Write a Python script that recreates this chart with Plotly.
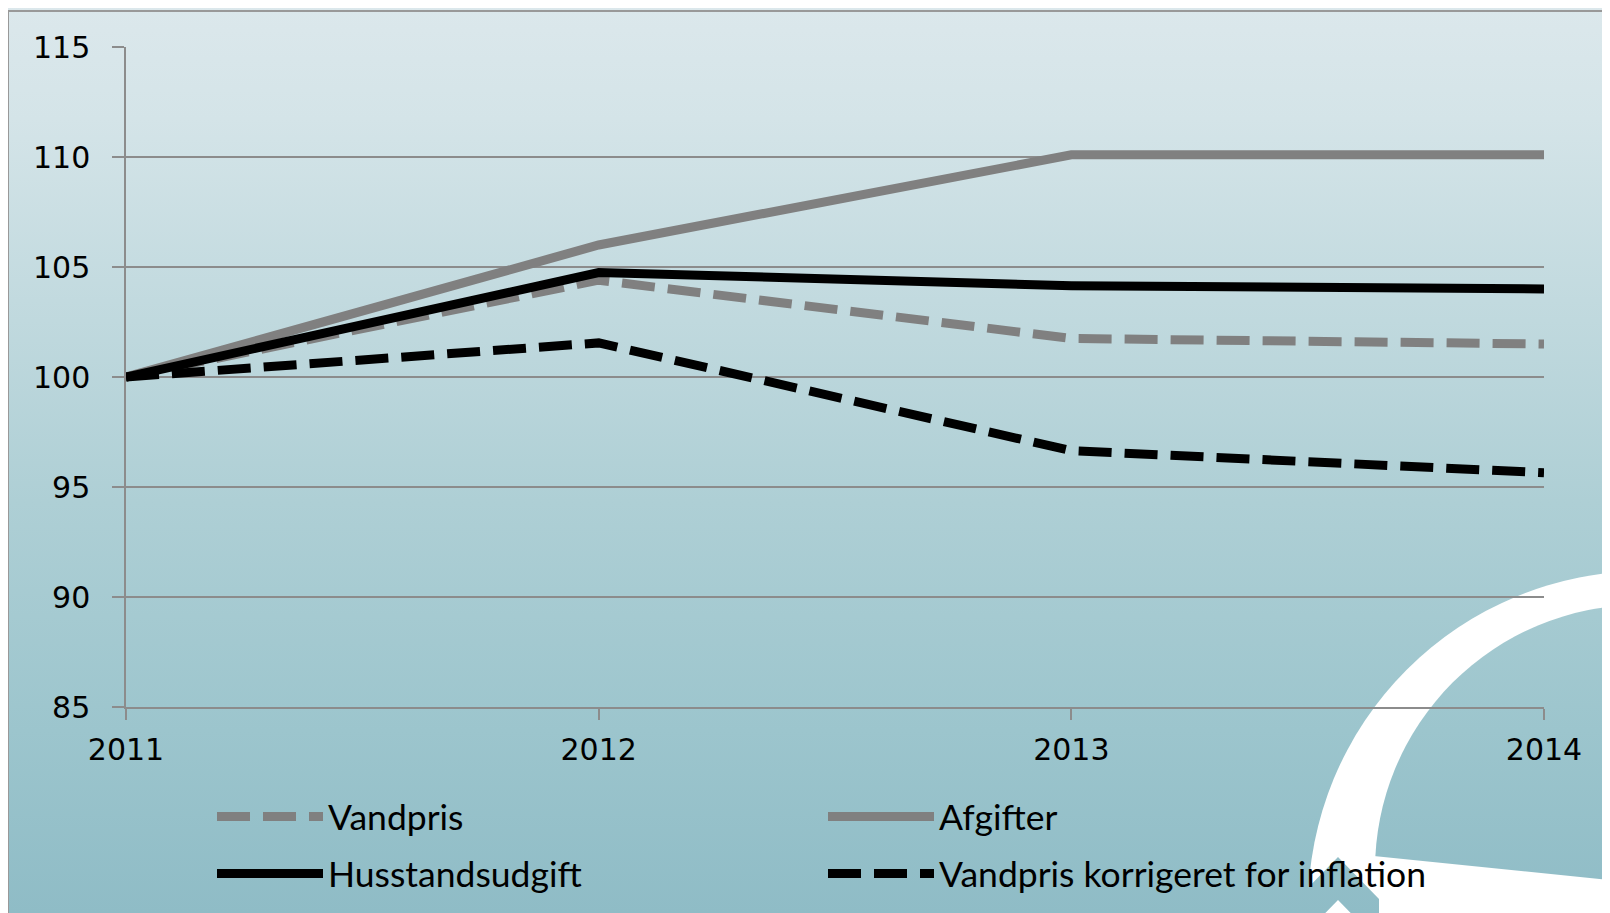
import base64
import plotly.graph_objects as go

# ---- data ----
years = [2011, 2012, 2013, 2014]
year_labels = ["2011", "2012", "2013", "2014"]
vandpris = [100, 104.4, 101.75, 101.5]
afgifter = [100, 106.0, 110.1, 110.1]
husstandsudgift = [100, 104.75, 104.15, 104.0]
vandpris_inflation = [100, 101.55, 96.65, 95.65]
y_ticks = [85, 90, 95, 100, 105, 110, 115]

# page body has an 8px margin: design in screen pixels, offset by 8
OFF = 8
W, H = 1610, 913
ML, MT = 126 - OFF, 47 - OFF
PW, PH = 1418, 660
MR, MB = W - ML - PW, H - MT - PH

def px_x(sx):
    return (sx - OFF - ML) / PW

def px_y(sy):
    return (H - MB - (sy - OFF)) / PH

svg = f'''<svg xmlns="http://www.w3.org/2000/svg" width="{W}" height="{H}" viewBox="{OFF} {OFF} {W} {H}" preserveAspectRatio="none">
<defs>
<linearGradient id="g" gradientUnits="userSpaceOnUse" x1="0" y1="0" x2="0" y2="913">
<stop offset="0" stop-color="#dce8ec"/>
<stop offset="0.13" stop-color="#d4e4e8"/>
<stop offset="0.55" stop-color="#aecfd5"/>
<stop offset="0.8" stop-color="#9cc5cd"/>
<stop offset="1" stop-color="#8fbcc6"/>
</linearGradient>
<clipPath id="c"><polygon points="1300,400 1620,400 1620,881 1300,848.6"/></clipPath>
</defs>
<rect x="0" y="0" width="1630" height="930" fill="url(#g)"/>
<circle cx="1645" cy="908" r="337" fill="#ffffff"/>
<circle cx="1640" cy="870" r="265" fill="url(#g)" clip-path="url(#c)"/>
<polygon points="1297,899 1338,857 1379,899 1379,942 1338,900 1297,942" fill="url(#g)"/>
<line x1="8" y1="11" x2="1630" y2="11" stroke="#999999" stroke-width="2"/>
<line x1="8" y1="11" x2="8" y2="930" stroke="#999999" stroke-width="2"/>
</svg>'''
uri = "data:image/svg+xml;base64," + base64.b64encode(svg.encode()).decode()

DASH = "33px,13px"
fig = go.Figure()
fig.add_trace(go.Scatter(x=years, y=vandpris, mode="lines", name="Vandpris",
                         line=dict(color="#808080", width=9, dash=DASH), legend="legend"))
fig.add_trace(go.Scatter(x=years, y=afgifter, mode="lines", name="Afgifter",
                         line=dict(color="#808080", width=9), legend="legend2"))
fig.add_trace(go.Scatter(x=years, y=husstandsudgift, mode="lines", name="Husstandsudgift",
                         line=dict(color="#000000", width=9), legend="legend3"))
fig.add_trace(go.Scatter(x=years, y=vandpris_inflation, mode="lines", name="Vandpris korrigeret for inflation",
                         line=dict(color="#000000", width=9, dash=DASH), legend="legend4"))

legfont = dict(family="Lato", size=35.5, color="#000000")
def leg(sx, sy):
    return dict(x=px_x(sx), y=px_y(sy), xanchor="left", yanchor="middle",
                bgcolor="rgba(0,0,0,0)", borderwidth=0, font=legfont,
                itemwidth=106, orientation="v")

fig.update_layout(
    width=W, height=H, autosize=False,
    margin=dict(l=ML, r=MR, t=MT, b=MB, pad=0),
    paper_bgcolor="#b4d3d9", plot_bgcolor="rgba(0,0,0,0)",
    showlegend=True,
    legend=leg(212, 817), legend2=leg(823, 817),
    legend3=leg(212, 874), legend4=leg(823, 874),
    images=[dict(source=uri, xref="paper", yref="paper",
                 x=-ML / PW, y=1 + MT / PH, sizex=W / PW, sizey=H / PH,
                 xanchor="left", yanchor="top", sizing="stretch", layer="below")],
    xaxis=dict(range=[2011, 2014], tickvals=years, ticktext=year_labels,
               showgrid=False, zeroline=False, showline=True, linecolor="#8c8c8c", linewidth=1.5,
               ticks="outside", ticklen=11, tickwidth=1.5, tickcolor="#8c8c8c",
               tickfont=dict(family="DejaVu Sans", size=30, color="#000000"),
               ticklabelstandoff=4),
    yaxis=dict(range=[85, 115], tickvals=y_ticks,
               showgrid=True, gridcolor="#8c8c8c", gridwidth=1.5, zeroline=False,
               showline=True, linecolor="#8c8c8c", linewidth=1.5,
               ticks="outside", ticklen=12, tickwidth=1.5, tickcolor="#8c8c8c",
               tickfont=dict(family="DejaVu Sans", size=30, color="#000000"),
               ticklabelstandoff=16),
)

fig.write_html("out.html")
